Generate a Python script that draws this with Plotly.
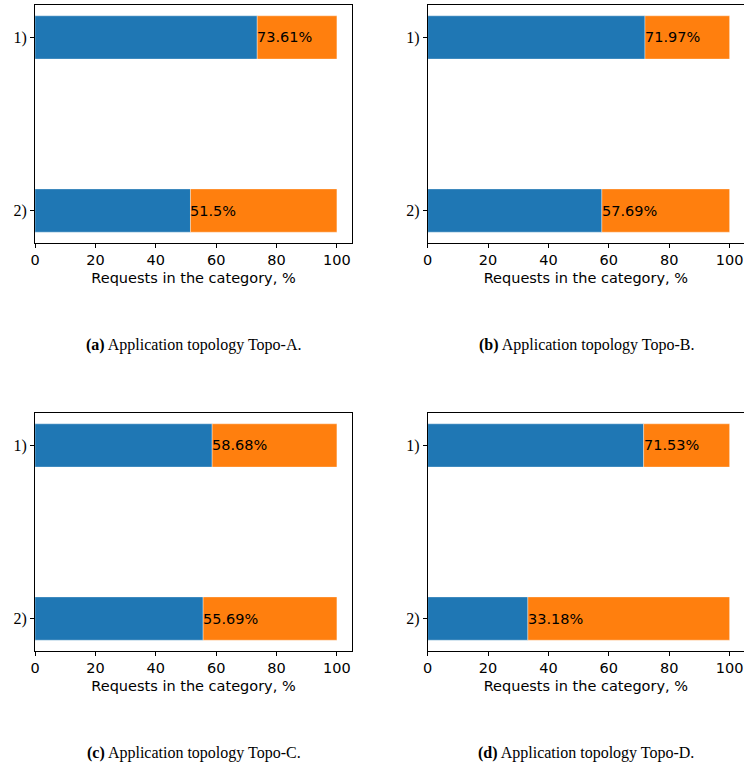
import plotly.graph_objects as go

# Share of requests per category for each application topology
categories = ["1)", "2)"]
topologies = ["Topo-A", "Topo-B", "Topo-C", "Topo-D"]
panel_letters = ["a", "b", "c", "d"]
share_first = {
    "Topo-A": [73.61, 51.5],
    "Topo-B": [71.97, 57.69],
    "Topo-C": [58.68, 55.69],
    "Topo-D": [71.53, 33.18],
}
x_ticks = [0, 20, 40, 60, 80, 100]
x_label = "Requests in the category, %"

W, H = 744, 765
BLUE, ORANGE = "#1f77b4", "#ff7f0e"
SANS = "DejaVu Sans"
SERIF = "Liberation Serif"

# pixel boxes of the four axes: (left, right, top, bottom)
boxes = [
    (35, 352, 5, 243),
    (427.7, 744, 5, 243),
    (35, 352, 413, 651),
    (427.7, 744, 413, 651),
]
px_per_unit = 317 / 105.0

fig = go.Figure()
annotations = []
for i, topo in enumerate(topologies):
    left, right, top, bottom = boxes[i]
    ax = "" if i == 0 else str(i + 1)
    xa, ya = "x" + ax, "y" + ax
    first = share_first[topo]
    rest = [100 - v for v in first]
    ypos = list(range(len(categories)))
    edge = dict(width=0.6, color="rgba(255,255,255,0.6)")
    fig.add_trace(go.Bar(
        x=first, y=ypos, orientation="h", marker=dict(color=BLUE, line=edge),
        width=0.25, xaxis=xa, yaxis=ya, showlegend=False, hoverinfo="skip"))
    fig.add_trace(go.Bar(
        x=rest, y=ypos, base=first, orientation="h", marker=dict(color=ORANGE, line=edge),
        width=0.25, xaxis=xa, yaxis=ya, showlegend=False, hoverinfo="skip"))
    for yv, v in zip(ypos, first):
        annotations.append(dict(
            x=v, y=yv, xref=xa, yref=ya, text=f"{v:g}%", showarrow=False,
            xanchor="left", yanchor="middle", xshift=-2,
            font=dict(family=SANS, size=14.5, color="black")))
    xrange_max = (right - left) / px_per_unit
    axis_common = dict(showline=True, linecolor="black", linewidth=1, mirror=True,
                       ticks="outside", ticklen=4, tickwidth=1, tickcolor="black",
                       showgrid=False, zeroline=False, automargin=False)
    fig.layout["xaxis" + ax] = dict(
        domain=[left / W, min(right / W, 1.0)], range=[0, xrange_max],
        tickvals=x_ticks, anchor=ya,
        tickfont=dict(family=SANS, size=14.5, color="black"),
        title=dict(text=x_label, standoff=5,
                   font=dict(family=SANS, size=14.5, color="black")),
        **axis_common)
    fig.layout["yaxis" + ax] = dict(
        domain=[1 - bottom / H, 1 - top / H], range=[1.1875, -0.1875],
        tickvals=ypos, ticktext=categories, anchor=xa,
        tickfont=dict(family=SERIF, size=16, color="black"),
        **axis_common)
    cx = (left + 317 / 2) / W
    cy = 1 - (bottom + 102) / H
    annotations.append(dict(
        x=cx, y=cy, xref="paper", yref="paper", showarrow=False,
        xanchor="center", yanchor="middle",
        text=f"<b>({panel_letters[i]})</b> Application topology {topo}.",
        font=dict(family=SERIF, size=16, color="black")))

fig.update_layout(
    width=W, height=H, margin=dict(l=0, r=0, t=0, b=0),
    plot_bgcolor="white", paper_bgcolor="white",
    barmode="overlay", annotations=annotations)

fig.write_html("out.html")
